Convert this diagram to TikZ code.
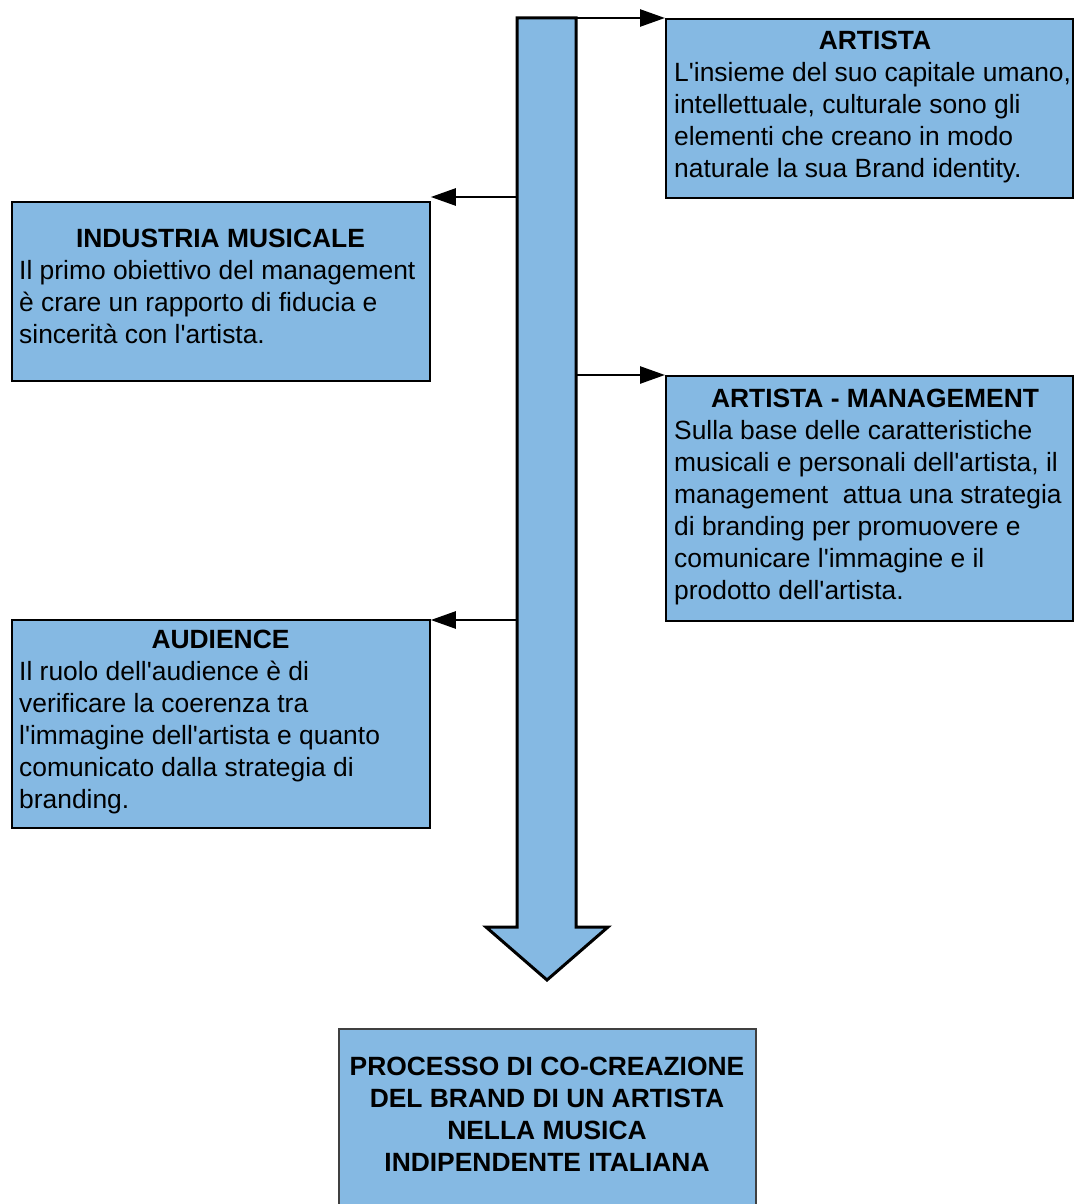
\documentclass[tikz,border=0pt]{standalone}
\usepackage{fontspec}
\newfontfamily\boxfont{Liberation Sans}
\usetikzlibrary{arrows.meta}
\definecolor{boxblue}{RGB}{133,185,227}
\tikzset{
  infobox/.style={draw=black, line width=1.8pt, fill=boxblue, inner sep=0pt, anchor=north west},
  titletext/.style={inner sep=0pt, anchor=base, font=\boxfont\fontsize{26.4}{32}\selectfont\bfseries},
  % multi-line texts: the base anchor sits on the last line
  bodytext/.style={inner sep=0pt, anchor=base west, align=left, font=\boxfont\fontsize{26.4}{32}\selectfont},
  link/.style={line width=2.6pt, -{Triangle[length=25pt,width=17pt]}},
  flowarrow/.style={draw=black, line width=3pt, fill=boxblue, line join=miter}
}
\begin{document}
\begin{tikzpicture}[x=1pt,y=-1pt]
\useasboundingbox (0,0) rectangle (1073,1204);

% main downward arrow
\draw[flowarrow] (517,18) -- (576,18) -- (576,927) -- (608,927) -- (547,980)
  -- (486,927) -- (517,927) -- cycle;
\coordinate (tapA) at (576,18);
\coordinate (tapI) at (517,197);
\coordinate (tapM) at (576,375);
\coordinate (tapU) at (517,620);

% boxes
\node[infobox, minimum width=407pt, minimum height=179pt] (artista) at (665,18) {};
\node[infobox, minimum width=418pt, minimum height=179pt] (industria) at (11,201) {};
\node[infobox, minimum width=407pt, minimum height=245pt] (management) at (665,375) {};
\node[infobox, minimum width=418pt, minimum height=208pt] (audience) at (11,619) {};
\node[infobox, draw=black!75, minimum width=417pt, minimum height=190pt] (processo) at (338,1028) {};

% texts
\node[titletext] (artistaT) at (875,49.5) {ARTISTA};
\node[bodytext] (artistaB) at (674,177.5) {L'insieme del suo capitale umano,\\intellettuale, culturale sono gli\\elementi che creano in modo\\naturale la sua Brand identity.};

\node[titletext] (industriaT) at (220.5,247.5) {INDUSTRIA MUSICALE};
\node[bodytext] (industriaB) at (19,343.5) {Il primo obiettivo del management\\è crare un rapporto di fiducia e\\sincerità con l'artista.};

\node[titletext] (managementT) at (875,407.5) {ARTISTA - MANAGEMENT};
\node[bodytext] (managementB) at (674,599.5) {Sulla base delle caratteristiche\\musicali e personali dell'artista, il\\management\ \ attua una strategia\\di branding per promuovere e\\comunicare l'immagine e il\\prodotto dell'artista.};

\node[titletext] (audienceT) at (220.5,648.5) {AUDIENCE};
\node[bodytext] (audienceB) at (19,808.5) {Il ruolo dell'audience è di\\verificare la coerenza tra\\l'immagine dell'artista e quanto\\comunicato dalla strategia di\\branding.};

\node[titletext, align=center] (processoT) at (547,1171.5) {PROCESSO DI CO-CREAZIONE\\DEL BRAND DI UN ARTISTA\\NELLA MUSICA\\INDIPENDENTE ITALIANA};

% connectors
\draw[link] (tapA) -- (tapA -| artista.west);
\draw[link] (tapI) -- (tapI -| industria.east);
\draw[link] (tapM) -- (tapM -| management.west);
\draw[link] (tapU) -- (tapU -| audience.east);
\end{tikzpicture}
\end{document}
